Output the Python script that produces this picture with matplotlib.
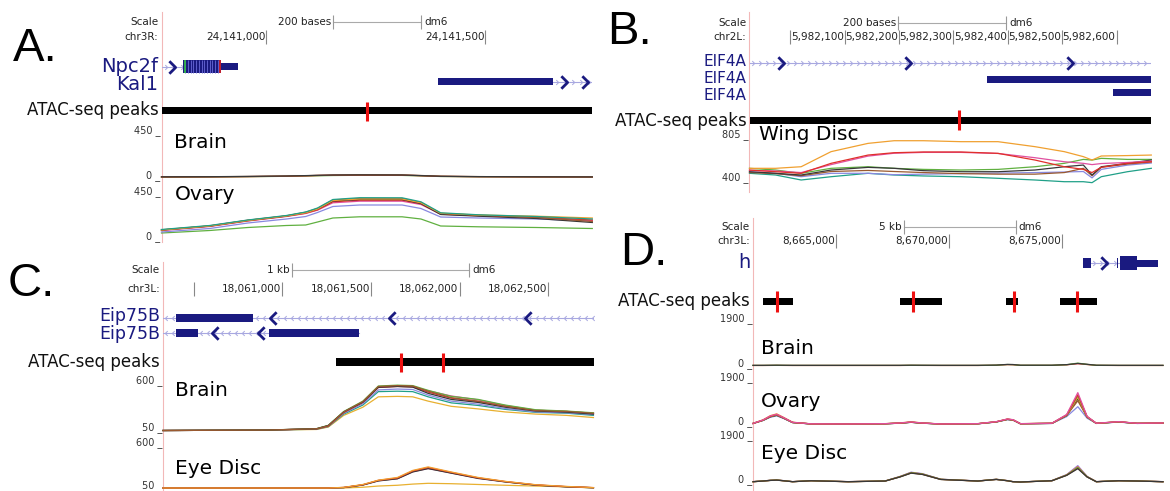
import numpy as np
import matplotlib
matplotlib.use('Agg')
import matplotlib.pyplot as plt
from matplotlib.path import Path
from matplotlib import font_manager

# A: chr3R
A_range = [24140761, 24141744]
A_ticks = [24141000, 24141500]
A_scale = [24141153, 24141353]
A_npc2f_cds = [24140809, 24140896]
A_npc2f_utr = [24140896, 24140936]
A_npc2f_chev = [24140784]
A_kal1_exon = [24141393, 24141655]
A_kal1_chev = [24141679, 24141727]
A_peaks = [(24140761, 24141744)]
A_summits = [24141229]
A_x = [24140761, 24140871, 24140958, 24141046, 24141090, 24141117, 24141152,
       24141213, 24141310, 24141353, 24141398, 24141485, 24141617, 24141744]
A_brain = {
    'green': [8, 10, 13, 17, 20, 22, 25, 27, 26, 21, 15, 12, 10, 9],
    'red':   [11, 12, 14, 18, 22, 25, 28, 29, 28, 23, 16, 13, 11, 10],
    'brown': [10, 12, 15, 19, 23, 26, 29, 33, 31, 25, 18, 14, 12, 10],
    'black': [12, 13, 16, 20, 24, 27, 30, 31, 30, 24, 17, 14, 12, 11],
}
A_ovary = {
    'green':    [60, 85, 115, 135, 140, 170, 210, 222, 222, 200, 130, 122, 115, 105],
    'lavender': [70, 105, 160, 200, 225, 265, 325, 340, 340, 305, 220, 210, 200, 180],
    'pink':     [85, 125, 180, 225, 255, 288, 362, 378, 378, 345, 248, 232, 215, 185],
    'red':      [88, 128, 182, 228, 258, 292, 372, 388, 388, 352, 250, 235, 218, 190],
    'black':    [90, 130, 186, 230, 265, 300, 380, 395, 395, 355, 245, 228, 205, 165],
    'brown':    [92, 132, 188, 232, 268, 305, 390, 405, 405, 365, 255, 238, 215, 175],
    'orange':   [90, 130, 185, 230, 262, 300, 385, 400, 400, 362, 258, 240, 228, 210],
    'teal':     [95, 135, 190, 235, 270, 310, 395, 413, 412, 372, 262, 242, 225, 200],
}

# B: chr2L
B_range = [5981925, 5982664]
B_ticks = [5982100, 5982200, 5982300, 5982400, 5982500, 5982600]
B_minor = [5982000]
B_scale = [5982198, 5982397]
B_chev = [5981983, 5982216, 5982515]
B_exon2 = [5982361, 5982664]
B_exon3 = [5982593, 5982664]
B_peaks = [(5981925, 5982664)]
B_summits = [5982311]
B_x = [5981925, 5981973, 5982020, 5982075, 5982143, 5982191, 5982245, 5982314,
       5982382, 5982450, 5982504, 5982539, 5982555, 5982572, 5982620, 5982664]
B_wing = {
    'teal':     [463, 447, 400, 431, 463, 447, 438, 431, 416, 400, 384, 384, 375, 431, 478, 510],
    'lavender': [478, 463, 431, 463, 463, 450, 455, 460, 465, 470, 475, 480, 420, 500, 540, 560],
    'brown':    [470, 460, 440, 480, 490, 480, 470, 460, 455, 455, 470, 510, 440, 520, 550, 570],
    'green':    [510, 494, 463, 510, 525, 510, 500, 494, 500, 525, 557, 594, 588, 604, 594, 594],
    'black':    [478, 463, 447, 494, 519, 510, 488, 478, 478, 494, 525, 541, 447, 525, 557, 588],
    'pink':     [490, 485, 470, 545, 625, 652, 660, 660, 650, 610, 572, 557, 545, 555, 565, 578],
    'red':      [494, 478, 463, 557, 635, 657, 664, 664, 651, 588, 525, 500, 470, 520, 557, 572],
    'orange':   [510, 510, 525, 667, 745, 770, 770, 761, 761, 714, 667, 620, 588, 626, 630, 635],
}

# C: chr3L
C_range = [18060328, 18062757]
C_ticks = [18061000, 18061500, 18062000, 18062500]
C_minor = [18060500]
C_scale = [18061054, 18062056]
C_row1_exon = [18060400, 18060833]
C_row1_chev = [18060950, 18061617, 18062387]
C_row2_exons = [(18060400, 18060527), (18060928, 18061433)]
C_row2_chev = [18060620, 18060881]
C_row2_end = 18061433
C_peaks = [(18061302, 18062757)]
C_summits = [18061672, 18061904]
C_x = [18060328, 18060913, 18061194, 18061260, 18061347, 18061455, 18061542, 18061650,
       18061736, 18061823, 18061953, 18062105, 18062257, 18062430, 18062604, 18062755]
C_brain = {
    'pink':     [50, 55, 70, 105, 262, 380, 552, 565, 560, 510, 450, 405, 340, 285, 270, 245],
    'yellow':   [50, 55, 62, 90, 225, 320, 440, 445, 440, 390, 330, 300, 265, 240, 225, 200],
    'teal':     [50, 55, 65, 95, 240, 345, 500, 505, 500, 440, 370, 340, 295, 260, 250, 225],
    'lavender': [50, 55, 68, 100, 250, 360, 520, 530, 525, 460, 390, 355, 305, 265, 255, 235],
    'red':      [50, 55, 68, 100, 258, 375, 548, 560, 555, 495, 425, 385, 330, 285, 272, 250],
    'green':    [50, 55, 72, 110, 270, 390, 565, 575, 570, 515, 445, 410, 345, 290, 275, 255],
    'black':    [50, 55, 70, 108, 265, 378, 550, 560, 552, 480, 410, 375, 320, 275, 262, 240],
    'brown':    [50, 55, 70, 105, 265, 385, 560, 570, 565, 505, 430, 390, 330, 280, 270, 250],
}
C_eye = {
    'yellow': [50, 50, 50, 50, 50, 60, 75, 85, 100, 110, 105, 95, 85, 75, 65, 52],
    'pink':   [50, 50, 50, 50, 56, 90, 143, 170, 258, 300, 242, 176, 130, 88, 66, 54],
    'green':  [50, 50, 50, 50, 56, 90, 145, 172, 262, 305, 245, 178, 130, 88, 66, 54],
    'black':  [50, 50, 50, 50, 55, 88, 140, 168, 255, 298, 240, 172, 128, 86, 65, 53],
    'red':    [50, 50, 50, 50, 57, 92, 148, 178, 268, 312, 250, 180, 133, 90, 68, 55],
    'orange': [50, 50, 50, 50, 58, 95, 150, 185, 275, 320, 255, 185, 135, 92, 70, 55],
}

# D: chr3L
D_range = [8661313, 8679462]
D_ticks = [8665000, 8670000, 8675000]
D_scale = [8667984, 8672942]
D_h_line = [8675938, 8677660]
D_h_utr5 = [8675938, 8676266]
D_h_chev = [8676842]
D_h_small = [8677413, 8677457]
D_h_cds = [8677576, 8678311]
D_h_utr3 = [8678311, 8679219]
D_peaks = [(8661755, 8663065), (8667820, 8669675), (8672525, 8673065), (8674903, 8676558)]
D_summits = [8662362, 8668395, 8672853, 8675655]
D_x = [8661313, 8661755, 8662083, 8662362, 8662658, 8663065, 8663884, 8665527, 8667165,
       8667820, 8668311, 8668807, 8669626, 8671264, 8672083, 8672574, 8672822, 8673150,
       8674544, 8675199, 8675691, 8676102, 8676510, 8677497, 8678316, 8679462]
D_brain = {
    'red':   [10, 10, 12, 15, 12, 10, 10, 10, 10, 10, 15, 12, 10, 10, 20, 45, 40, 15, 15, 38, 85, 50, 15, 10, 10, 10],
    'green': [12, 12, 15, 18, 15, 12, 12, 12, 12, 12, 18, 15, 12, 12, 22, 50, 45, 18, 18, 42, 110, 55, 18, 12, 12, 12],
    'black': [15, 15, 18, 20, 18, 15, 15, 15, 15, 15, 20, 18, 15, 15, 25, 55, 50, 20, 20, 45, 95, 60, 20, 15, 15, 15],
}
D_ovary = {
    'lavender': [34, 160, 300, 360, 250, 72, 15, 12, 22, 48, 85, 48, 12, 22, 98, 200, 175, 22, 36, 330, 750, 260, 36, 95, 36, 48],
    'black':    [36, 168, 320, 380, 265, 75, 16, 12, 22, 48, 85, 48, 12, 22, 100, 205, 180, 22, 38, 370, 1080, 300, 38, 100, 38, 50],
    'brown':    [37, 172, 335, 395, 270, 76, 17, 13, 24, 50, 88, 50, 13, 24, 103, 210, 185, 24, 40, 380, 1000, 310, 40, 102, 40, 52],
    'orange':   [40, 190, 370, 445, 300, 88, 20, 15, 28, 60, 105, 58, 15, 28, 110, 222, 192, 28, 44, 390, 1150, 315, 44, 110, 42, 55],
    'green':    [38, 170, 330, 400, 275, 78, 18, 14, 25, 50, 90, 50, 14, 25, 105, 215, 188, 25, 40, 395, 1220, 320, 40, 105, 40, 52],
    'red':      [35, 175, 340, 410, 280, 80, 18, 14, 25, 52, 92, 52, 14, 26, 108, 218, 190, 26, 42, 400, 1260, 330, 42, 108, 40, 54],
    'pink':     [40, 185, 360, 430, 290, 85, 20, 15, 28, 57, 99, 57, 15, 28, 113, 227, 198, 28, 45, 420, 1350, 340, 45, 113, 43, 57],
}
D_eye = {
    'lavender': [28, 57, 85, 99, 71, 28, 71, 28, 57, 250, 430, 370, 130, 57, 128, 71, 28, 14, 71, 330, 710, 250, 28, 71, 57, 28],
    'pink':     [28, 57, 85, 99, 71, 28, 71, 28, 57, 245, 420, 360, 128, 57, 128, 71, 28, 14, 71, 320, 680, 245, 28, 71, 57, 28],
    'orange':   [26, 55, 82, 95, 68, 26, 68, 26, 55, 238, 405, 350, 125, 55, 125, 68, 26, 13, 68, 312, 650, 240, 26, 68, 55, 26],
    'green':    [27, 56, 84, 97, 70, 27, 70, 27, 56, 240, 411, 355, 128, 56, 128, 70, 27, 14, 70, 310, 640, 238, 27, 70, 56, 27],
    'brown':    [25, 54, 80, 92, 66, 25, 66, 25, 54, 230, 395, 340, 122, 54, 122, 66, 25, 12, 66, 300, 600, 230, 25, 66, 54, 25],
    'black':    [25, 54, 80, 92, 66, 25, 66, 25, 54, 228, 390, 335, 120, 54, 120, 66, 25, 12, 66, 295, 580, 225, 25, 66, 54, 25],
}

colors = {'orange': '#f0a030', 'yellow': '#e8b030', 'red': '#e0302a', 'pink': '#e050a0',
          'green': '#60b040', 'teal': '#20a088', 'lavender': '#8888e0',
          'brown': '#9a5a30', 'black': '#383838'}
NAVY = '#1a1a80'
LIGHT = '#a8a8e0'

# ---------------- fonts ----------------
plt.rcParams['font.family'] = 'DejaVu Sans'
installed = {f.name for f in font_manager.fontManager.ttflist}
if 'Liberation Sans Narrow' in installed:
    RFAM, RSIZE, SSIZE = 'Liberation Sans Narrow', 10, 8.5
else:
    RFAM, RSIZE, SSIZE = 'DejaVu Sans', 7.5, 7
LETTER_FAM = 'Liberation Sans' if 'Liberation Sans' in installed else 'DejaVu Sans'

W, H = 1170, 491
fig = plt.figure(figsize=(W / 100, H / 100), dpi=100)

R_CHEV = Path([(-0.5, 1), (0.5, 0), (-0.5, -1)], [Path.MOVETO, Path.LINETO, Path.LINETO])
L_CHEV = Path([(0.5, 1), (-0.5, 0), (0.5, -1)], [Path.MOVETO, Path.LINETO, Path.LINETO])


def box(x0, x1, ytop, ybot):
    ax = fig.add_axes([x0 / W, 1 - ybot / H, (x1 - x0) / W, (ybot - ytop) / H])
    ax.axis('off')
    return ax


def frame(x0, x1, ytop, ybot):
    ax = fig.add_axes([x0 / W, 1 - ybot / H, (x1 - x0) / W, (ybot - ytop) / H])
    ax.set_xticks([])
    ax.set_yticks([])
    ax.patch.set_alpha(0)
    for s in ['top', 'right', 'bottom']:
        ax.spines[s].set_visible(False)
    ax.spines['left'].set_color('#f2b8b8')
    ax.spines['left'].set_linewidth(0.8)


def left_label(ax, y, s, **kw):
    ax.annotate(s, (0, y), xycoords=('axes fraction', 'data'), xytext=(-3, 0),
                textcoords='offset pixels', ha='right', va='center', **kw)


def header(x0, x1, ytop, ybot, xlim):
    ax = box(x0, x1, ytop, ybot)
    ax.set_xlim(xlim)
    ax.set_ylim(ybot, ytop)
    return ax


def ruler(ax, chrom, scale, label, ticks, minor, ys, yt):
    left_label(ax, ys, 'Scale', family=RFAM, fontsize=RSIZE, color='#222')
    left_label(ax, yt, chrom, family=RFAM, fontsize=RSIZE, color='#222')
    ax.plot(scale, [ys, ys], color='#aaaaaa', lw=0.8)
    ax.vlines(scale, ys - 7, ys + 7, color='#999999', lw=0.8)
    ax.annotate(label, (scale[0], ys), xytext=(-2, 0), textcoords='offset pixels',
                ha='right', va='center', family=RFAM, fontsize=RSIZE, color='#222')
    ax.annotate('dm6', (scale[1], ys), xytext=(3, 0), textcoords='offset pixels',
                ha='left', va='center', family=RFAM, fontsize=RSIZE, color='#222')
    ax.vlines(list(ticks) + list(minor), yt - 7, yt + 7, color='#888888', lw=0.8)
    for t in ticks:
        ax.annotate(f'{t:,}', (t, yt), xytext=(-1, 0), textcoords='offset pixels',
                    ha='right', va='center', family=RFAM, fontsize=RSIZE, color='#222')


def intron(ax, a, b, y, direction, step):
    ax.plot([a, b], [y, y], color=LIGHT, lw=0.8, zorder=1)
    xs = np.arange(a + step / 2, b, step)
    ax.plot(xs, [y] * len(xs), ls='none', marker=R_CHEV if direction > 0 else L_CHEV,
            ms=3.5, mew=0.7, mfc='none', mec=LIGHT, zorder=1)


def big_chev(ax, xs, y, direction):
    ax.plot(xs, [y] * len(xs), ls='none', marker=R_CHEV if direction > 0 else L_CHEV,
            ms=9, mew=2, mfc='none', mec=NAVY, zorder=4)


def exon(ax, a, b, y, h):
    ax.broken_barh([(a, b - a)], (y - h / 2, h), color=NAVY, lw=0, zorder=3)


def peaks(ax, spans, summits, y, h, rtop, rbot):
    ax.broken_barh([(a, b - a) for a, b in spans], (y - h / 2, h), color='black', lw=0)
    ax.vlines(summits, rtop, rbot, color='#ee1111', lw=2.2, zorder=3)
    left_label(ax, y, 'ATAC-seq peaks', fontsize=12, color='#111')


def track(x0, x1, ytop, ybot, xlim, vlim, xs, lines, title, tx, ty):
    ax = box(x0, x1, ytop, ybot)
    ax.set_xlim(xlim)
    ax.set_ylim(vlim)
    for name, ys in lines.items():
        ax.plot(xs, ys, color=colors[name], lw=0.9, clip_on=False)
    ax.text(tx, ty, title, transform=ax.transAxes, fontsize=14.5, va='center', ha='left')
    for frac, v in [(1, vlim[1]), (0, vlim[0])]:
        ax.annotate(f'{v} _', (0, frac), xycoords='axes fraction', xytext=(-1, 0),
                    textcoords='offset pixels', ha='right', va='baseline',
                    family=RFAM, fontsize=SSIZE, color='#333')
    return ax


# ---------------- frames (browser left border) ----------------
frame(161.5, 592.3, 12, 242)
frame(749.5, 1151.3, 12, 192)
frame(163, 593.8, 262, 491)
frame(753, 1163, 218, 491)

# ---------------- panel A ----------------
ax = header(161.5, 592.3, 10, 125, A_range)
ruler(ax, 'chr3R:', A_scale, '200 bases', A_ticks, [], 22.5, 37)
bp = (A_range[1] - A_range[0]) / 430.8
intron(ax, A_range[0], A_npc2f_cds[0], 66.7, 1, 8 * bp)
big_chev(ax, A_npc2f_chev, 66.7, 1)
exon(ax, A_npc2f_cds[0], A_npc2f_cds[1], 66.7, 13)
ax.vlines(np.linspace(A_npc2f_cds[0], A_npc2f_cds[1], 15)[1:-1], 60.5, 72.9,
          color='#6a6ad8', lw=0.6, zorder=4)
ax.vlines([A_npc2f_cds[0] + 2 * bp], 60.2, 73.2, color='#30c040', lw=1.2, zorder=4)
ax.vlines([A_npc2f_cds[1] - 1 * bp], 60.2, 73.2, color='#e02020', lw=1.2, zorder=4)
exon(ax, A_npc2f_utr[0], A_npc2f_utr[1], 66.7, 7)
left_label(ax, 66.7, 'Npc2f', fontsize=14, color=NAVY)
intron(ax, A_kal1_exon[1], A_range[1], 82, 1, 8 * bp)
exon(ax, A_kal1_exon[0], A_kal1_exon[1], 82, 7)
big_chev(ax, A_kal1_chev, 82, 1)
left_label(ax, 85, 'Kal1', fontsize=14, color=NAVY)
peaks(ax, A_peaks, A_summits, 110.5, 7, 102, 121)

track(161.5, 592.3, 133, 178, A_range, (0, 450), A_x, A_brain, 'Brain', 0.03, 0.8)
track(161.5, 592.3, 194, 239, A_range, (0, 450), A_x, A_ovary, 'Ovary', 0.03, 0.98)

# ---------------- panel B ----------------
ax = header(749.5, 1151.3, 10, 132, B_range)
ruler(ax, 'chr2L:', B_scale, '200 bases', B_ticks, B_minor, 23, 37)
bp = (B_range[1] - B_range[0]) / 401.8
intron(ax, B_range[0], B_range[1], 63, 1, 7 * bp)
big_chev(ax, B_chev, 63, 1)
exon(ax, B_exon2[0], B_exon2[1], 79, 7)
exon(ax, B_exon3[0], B_exon3[1], 92, 7)
for y in [61.5, 78.5, 95.5]:
    left_label(ax, y, 'EIF4A', fontsize=11, color=NAVY)
peaks(ax, B_peaks, B_summits, 120.5, 7, 110, 130)

track(749.5, 1151.3, 137, 180, B_range, (400, 805), B_x, B_wing, 'Wing Disc', 0.024, 1.05)

# ---------------- panel C ----------------
ax = header(163, 593.8, 258, 376, C_range)
ruler(ax, 'chr3L:', C_scale, '1 kb', C_ticks, C_minor, 270, 289)
bp = (C_range[1] - C_range[0]) / 430.8
intron(ax, C_range[0], C_range[1], 317.7, -1, 7 * bp)
exon(ax, C_row1_exon[0], C_row1_exon[1], 317.7, 8)
big_chev(ax, C_row1_chev, 317.7, -1)
intron(ax, C_range[0], C_row2_end, 333.3, -1, 7 * bp)
for a, b in C_row2_exons:
    exon(ax, a, b, 333.3, 8)
big_chev(ax, C_row2_chev, 333.3, -1)
left_label(ax, 316.5, 'Eip75B', fontsize=12.5, color=NAVY)
left_label(ax, 334, 'Eip75B', fontsize=12.5, color=NAVY)
peaks(ax, C_peaks, C_summits, 362, 8, 353, 372)

track(163, 593.8, 383, 430.5, C_range, (50, 600), C_x, C_brain, 'Brain', 0.027, 0.85)
track(163, 593.8, 445, 488, C_range, (50, 600), C_x, C_eye, 'Eye Disc', 0.027, 0.46)

# ---------------- panel D ----------------
ax = header(753, 1163, 215, 318, D_range)
ruler(ax, 'chr3L:', D_scale, '5 kb', D_ticks, [], 226.7, 241)
bp = (D_range[1] - D_range[0]) / 410
intron(ax, D_h_line[0], D_h_line[1], 263, 1, 7 * bp)
exon(ax, D_h_utr5[0], D_h_utr5[1], 263, 10)
big_chev(ax, D_h_chev, 263, 1)
exon(ax, D_h_small[0], D_h_small[1], 263, 10)
exon(ax, D_h_cds[0], D_h_cds[1], 263, 14)
exon(ax, D_h_utr3[0], D_h_utr3[1], 263, 7)
left_label(ax, 263, 'h', fontsize=14, color=NAVY)
peaks(ax, D_peaks, D_summits, 301, 7, 291, 312)

track(753, 1163, 321, 365.7, D_range, (0, 1900), D_x, D_brain, 'Brain', 0.02, 0.39)
track(753, 1163, 379.7, 424.3, D_range, (0, 1900), D_x, D_ovary, 'Ovary', 0.02, 0.51)
track(753, 1163, 437.7, 482.3, D_range, (0, 1900), D_x, D_eye, 'Eye Disc', 0.02, 0.65)

# ---------------- panel letters ----------------
for x, y, s in [(13, 61, 'A.'), (607, 44, 'B.'), (8, 296, 'C.'), (620, 265, 'D.')]:
    fig.text(x / W, 1 - y / H, s, fontsize=34, family=LETTER_FAM, va='baseline', ha='left')

fig.savefig('out.png', dpi=100, facecolor='white')
